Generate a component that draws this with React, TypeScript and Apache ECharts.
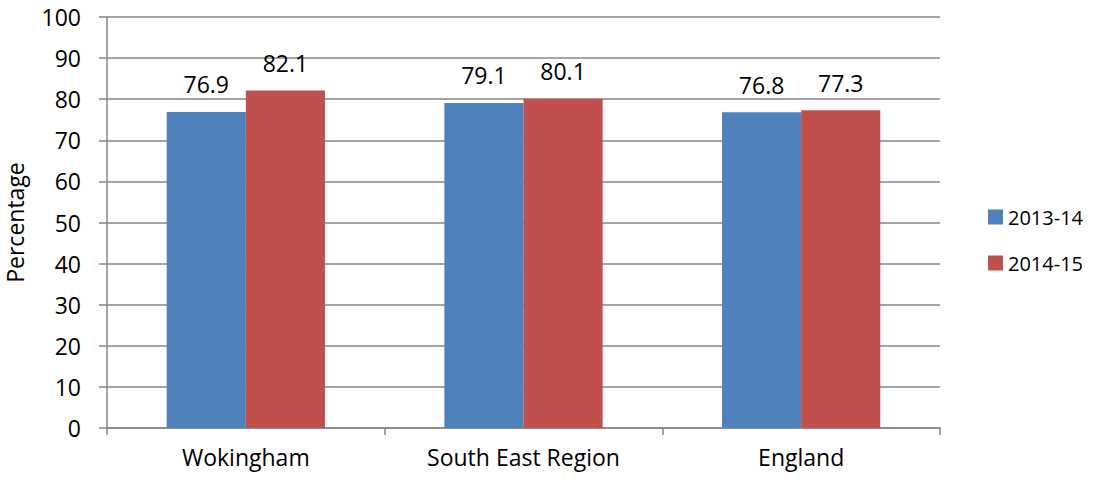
import React, { useEffect, useRef } from "react";
import * as echarts from "echarts";

const categories = ["Wokingham", "South East Region", "England"];
const seriesNames = ["2013-14", "2014-15"];
const values2013 = [76.9, 79.1, 76.8];
const values2014 = [82.1, 80.1, 77.3];
const colors = ["#4F81BD", "#C0504D"];

export default function App() {
  const ref = useRef<HTMLDivElement>(null);
  useEffect(() => {
    const chart = echarts.init(ref.current!, undefined, { renderer: "svg" });
    const font = "'Open Sans', 'Liberation Sans', sans-serif";
    const mk = (name: string, data: number[], color: string) => ({
      name,
      type: "bar",
      data,
      barGap: "0%",
      barCategoryGap: "43%",
      itemStyle: { color },
      label: {
        show: true,
        position: "top",
        distance: 16,
        color: "#000",
        fontSize: 23,
        fontFamily: font,
        formatter: (p: any) => p.value.toFixed(1),
      },
    });
    chart.setOption({
      animation: false,
      textStyle: { fontFamily: font },
      grid: { left: 107, right: 159, top: 17, bottom: 52, outerBoundsMode: "none", containLabel: false },
      legend: {
        orient: "vertical",
        left: 983,
        top: 202,
        itemWidth: 15,
        itemHeight: 15,
        itemGap: 26,
        icon: "rect",
        textStyle: { fontSize: 20, color: "#000", fontFamily: font },
        data: seriesNames,
      },
      xAxis: {
        type: "category",
        data: categories,
        axisLine: { lineStyle: { color: "#868686", width: 1.5 } },
        axisTick: { show: true, length: 7, lineStyle: { color: "#868686", width: 1.5 } },
        axisLabel: { fontSize: 23, color: "#000", margin: 17, fontFamily: font },
      },
      yAxis: {
        type: "value",
        min: 0,
        max: 100,
        interval: 10,
        name: "Percentage",
        nameLocation: "middle",
        nameGap: 81,
        nameRotate: 90,
        nameTextStyle: { fontSize: 23, color: "#000", fontFamily: font },
        axisLine: { show: true, lineStyle: { color: "#868686", width: 1.5 } },
        axisTick: { show: true, length: 8, lineStyle: { color: "#868686", width: 1.5 } },
        axisLabel: { fontSize: 23, color: "#000", margin: 26, fontFamily: font },
        splitLine: { lineStyle: { color: "#868686", width: 1.5 } },
      },
      series: [
        mk(seriesNames[0], values2013, colors[0]),
        mk(seriesNames[1], values2014, colors[1]),
      ],
    });
    return () => chart.dispose();
  }, []);
  return <div ref={ref} style={{ width: 1099, height: 480, position: "absolute", left: 0, top: 0 }} />;
}
